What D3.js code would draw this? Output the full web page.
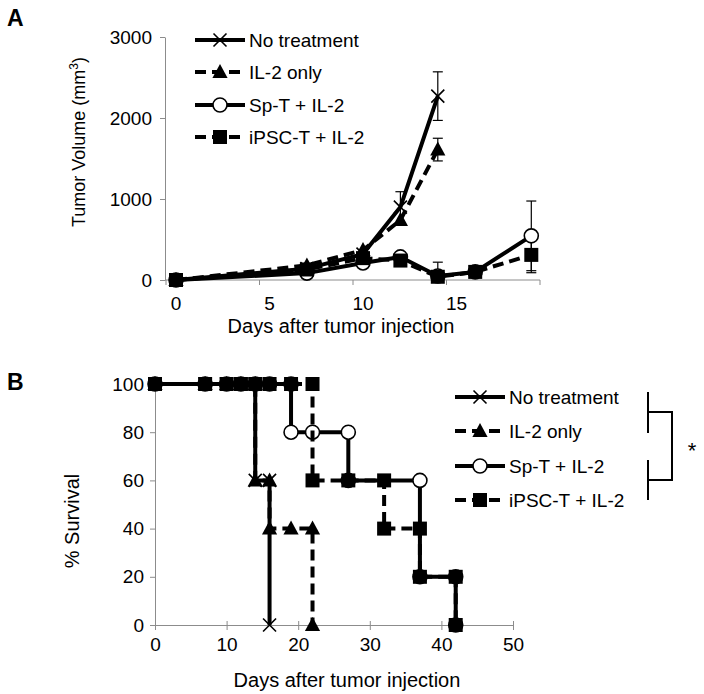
<!DOCTYPE html>
<html>
<head>
<meta charset="utf-8">
<script src="https://cdn.jsdelivr.net/npm/d3@7"></script>
<style>
  html, body { margin: 0; padding: 0; background: #fff; }
  svg { display: block; font-family: Arial, "Liberation Sans", sans-serif; }
</style>
</head>
<body>
<svg id="chart" width="704" height="694"></svg>
<script>
// ---------- Panel A data: tumor volume ----------
const daysA = [0, 7, 10, 12, 14, 16, 19];
const seriesNames = ["No treatment", "IL-2 only", "Sp-T + IL-2", "iPSC-T + IL-2"];
const volNoTx   = [0, 140, 320, 900, 2270];
const volIL2    = [0, 180, 370, 740, 1610];
const volSpT    = [0, 85, 210, 285, 50, 100, 545];
const volIPSC   = [0, 130, 270, 240, 40, 100, 310];
const errNoTx   = [0, 0, 0, 190, 300];
const errIL2    = [0, 0, 0, 0, 140];
const errSpT    = [0, 0, 0, 0, 0, 0, 430];
const errIPSC   = [0, 0, 0, 0, 180, 0, 220];
const yTicksA = [0, 1000, 2000, 3000];
const xTicksA = [0, 5, 10, 15, 20];
const xLabelsA = [0, 5, 10, 15];

// ---------- Panel B data: survival (step curves) ----------
const survNoTxDays = [0, 7, 10, 12, 14, 14, 16, 16];
const survNoTx     = [100, 100, 100, 100, 100, 60, 60, 0];
const survIL2Days  = [0, 7, 10, 12, 14, 14, 16, 16, 19, 22, 22];
const survIL2      = [100, 100, 100, 100, 100, 60, 60, 40, 40, 40, 0];
const survSpTDays  = [0, 7, 10, 12, 14, 16, 19, 19, 22, 27, 27, 37, 37, 42, 42];
const survSpT      = [100, 100, 100, 100, 100, 100, 100, 80, 80, 80, 60, 60, 20, 20, 0];
const survIPSCDays = [0, 7, 10, 12, 14, 16, 19, 22, 22, 27, 32, 32, 37, 37, 42, 42];
const survIPSC     = [100, 100, 100, 100, 100, 100, 100, 100, 60, 60, 60, 40, 40, 20, 20, 0];
const yTicksB = [0, 20, 40, 60, 80, 100];
const xTicksB = [0, 10, 20, 30, 40, 50];

const markers = ["x", "tri", "circle", "square"];
const dashed  = [false, true, false, true];

const svg = d3.select("#chart");
const axisColor = "#8c8c8c";
const FONT = "Arial, 'Liberation Sans', sans-serif";

function drawMarker(g, type, x, y) {
  if (type === "x") {
    const r = 6.5;
    g.append("path").attr("d", `M${x-r},${y-r}L${x+r},${y+r}M${x-r},${y+r}L${x+r},${y-r}`)
      .attr("stroke", "#000").attr("stroke-width", 1.6).attr("fill", "none");
  } else if (type === "tri") {
    const r = 8;
    g.append("path").attr("d", `M${x},${y-r}L${x+r*0.95},${y+r*0.75}L${x-r*0.95},${y+r*0.75}Z`)
      .attr("fill", "#000");
  } else if (type === "circle") {
    g.append("circle").attr("cx", x).attr("cy", y).attr("r", 7)
      .attr("fill", "#fff").attr("stroke", "#000").attr("stroke-width", 1.6);
  } else if (type === "square") {
    const r = 7;
    g.append("rect").attr("x", x - r).attr("y", y - r).attr("width", 2*r).attr("height", 2*r)
      .attr("fill", "#000");
  }
}

// ================= PANEL A =================
const xA = d3.scaleLinear().domain([0, 20]).range([176, 550]);
const yA = d3.scaleLinear().domain([0, 3000]).range([280, 37]);
const gA = svg.append("g");

const yAxisA = d3.axisLeft(yA).tickValues(yTicksA).tickFormat(d3.format("d"))
  .tickSize(5).tickSizeOuter(0).tickPadding(8);
const gyA = gA.append("g").attr("transform", "translate(165,0)").call(yAxisA);
gyA.select(".domain").attr("stroke", axisColor);
gyA.selectAll(".tick line").attr("stroke", axisColor);
gyA.selectAll(".tick text").attr("font-size", 19).attr("font-family", FONT).attr("fill", "#000");

gA.append("line").attr("x1", 165).attr("x2", xA(20) - 10).attr("y1", 280).attr("y2", 280).attr("stroke", axisColor);
xTicksA.forEach(v => {
  gA.append("line").attr("x1", xA(v) - 10).attr("x2", xA(v) - 10).attr("y1", 280).attr("y2", 285).attr("stroke", axisColor);
});
xLabelsA.forEach(v => {
  gA.append("text").attr("x", xA(v)).attr("y", 310).attr("text-anchor", "middle")
    .attr("font-size", 19).text(v);
});

gA.append("text").attr("x", 341).attr("y", 333).attr("text-anchor", "middle")
  .attr("font-size", 20).text("Days after tumor injection");
const yt = gA.append("text").attr("transform", "translate(85,142) rotate(-90)")
  .attr("text-anchor", "middle").attr("font-size", 18);
yt.append("tspan").text("Tumor Volume (mm");
yt.append("tspan").attr("font-size", 12).attr("dy", -7).text("3");
yt.append("tspan").attr("dy", 7).text(")");

gA.append("text").attr("x", 7).attr("y", 26).attr("font-size", 23).attr("font-weight", "bold").text("A");

const volData = [volNoTx, volIL2, volSpT, volIPSC];
const errData = [errNoTx, errIL2, errSpT, errIPSC];
const lineA = d3.line().x(d => xA(d[0])).y(d => yA(d[1]));

volData.forEach((vals, i) => {
  vals.forEach((v, j) => {
    const e = errData[i][j];
    if (e > 0) {
      const x = xA(daysA[j]);
      gA.append("line").attr("x1", x).attr("x2", x).attr("y1", yA(v + e)).attr("y2", yA(Math.max(0, v - e)))
        .attr("stroke", "#000").attr("stroke-width", 1.2);
      [v + e, Math.max(0, v - e)].forEach(c => {
        gA.append("line").attr("x1", x - 5).attr("x2", x + 5).attr("y1", yA(c)).attr("y2", yA(c))
          .attr("stroke", "#000").attr("stroke-width", 1.2);
      });
    }
  });
});

volData.forEach((vals, i) => {
  const pts = vals.map((v, j) => [daysA[j], v]);
  gA.append("path").attr("d", lineA(pts)).attr("fill", "none").attr("stroke", "#000")
    .attr("stroke-width", 4).attr("stroke-dasharray", dashed[i] ? "11,6" : null)
    .attr("stroke-linejoin", "round");
  pts.forEach(p => drawMarker(gA, markers[i], xA(p[0]), yA(p[1])));
});

const legAy = [40, 72, 105, 137];
seriesNames.forEach((name, i) => {
  const y = legAy[i];
  gA.append("line").attr("x1", 195).attr("x2", 245).attr("y1", y).attr("y2", y)
    .attr("stroke", "#000").attr("stroke-width", 4).attr("stroke-dasharray", dashed[i] ? "11,6" : null);
  drawMarker(gA, markers[i], 220, y);
  gA.append("text").attr("x", 249).attr("y", y + 7).attr("font-size", 19).text(name);
});

// ================= PANEL B =================
const xB = d3.scaleLinear().domain([0, 50]).range([155, 513]);
const yB = d3.scaleLinear().domain([0, 100]).range([625, 384]);
const gB = svg.append("g");

const gyB = gB.append("g").attr("transform", "translate(155,0)")
  .call(d3.axisLeft(yB).tickValues(yTicksB).tickSize(5).tickSizeOuter(0).tickPadding(6));
gyB.select(".domain").attr("stroke", axisColor);
gyB.selectAll(".tick line").attr("stroke", axisColor);
gyB.selectAll(".tick text").attr("font-size", 19).attr("font-family", FONT).attr("fill", "#000");

const gxB = gB.append("g").attr("transform", "translate(0,625)")
  .call(d3.axisBottom(xB).tickValues(xTicksB).tickSize(5).tickSizeOuter(0).tickPadding(8));
gxB.select(".domain").attr("stroke", axisColor);
gxB.selectAll(".tick line").attr("stroke", axisColor).attr("y1", -4);
gxB.selectAll(".tick text").attr("font-size", 19).attr("font-family", FONT).attr("fill", "#000");

gB.append("text").attr("x", 347).attr("y", 687).attr("text-anchor", "middle")
  .attr("font-size", 20).text("Days after tumor injection");
gB.append("text").attr("transform", "translate(79,521) rotate(-90)")
  .attr("text-anchor", "middle").attr("font-size", 20).text("% Survival");
gB.append("text").attr("x", 7).attr("y", 390).attr("font-size", 23).attr("font-weight", "bold").text("B");

const survDays = [survNoTxDays, survIL2Days, survSpTDays, survIPSCDays];
const survVals = [survNoTx, survIL2, survSpT, survIPSC];
const lineB = d3.line().x(d => xB(d[0])).y(d => yB(d[1]));
survVals.forEach((vals, i) => {
  const pts = vals.map((v, j) => [survDays[i][j], v]);
  gB.append("path").attr("d", lineB(pts)).attr("fill", "none").attr("stroke", "#000")
    .attr("stroke-width", 4).attr("stroke-dasharray", dashed[i] ? "11,6" : null);
  pts.forEach(p => drawMarker(gB, markers[i], xB(p[0]), yB(p[1])));
});

const legBy = [397, 431, 466, 500];
seriesNames.forEach((name, i) => {
  const y = legBy[i];
  gB.append("line").attr("x1", 455).attr("x2", 505).attr("y1", y).attr("y2", y)
    .attr("stroke", "#000").attr("stroke-width", 4).attr("stroke-dasharray", dashed[i] ? "11,6" : null);
  drawMarker(gB, markers[i], 480, y);
  gB.append("text").attr("x", 509).attr("y", y + 7).attr("font-size", 19).text(name);
});

const br = gB.append("g").attr("stroke", "#000").attr("stroke-width", 2).attr("fill", "none");
br.append("path").attr("d", "M648,392V433M648,412H672V480H648M648,460V500");
gB.append("text").attr("x", 692).attr("y", 458).attr("text-anchor", "middle").attr("font-size", 22).text("*");
</script>
</body>
</html>
